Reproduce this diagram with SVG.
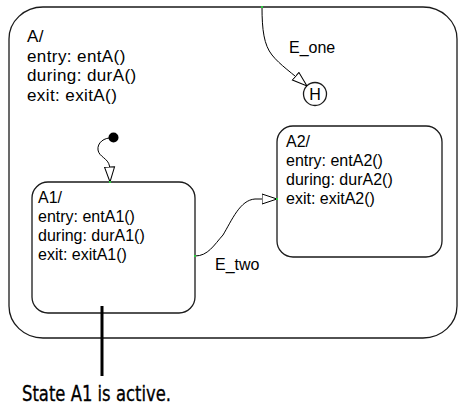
<svg xmlns="http://www.w3.org/2000/svg" width="459" height="405" viewBox="0 0 459 405">
<defs>
<style>
.st{fill:none;stroke:#1a1a1a;stroke-width:1.3}
.big{font-family:"Liberation Sans",Arial,sans-serif;font-size:17px;letter-spacing:0.4px;fill:#000}
.sm{font-family:"Liberation Sans",Arial,sans-serif;font-size:16px;fill:#000}
.tr{fill:none;stroke:#000;stroke-width:1}
.jn{fill:#2ecc40}
.cap{font-family:"DejaVu Sans Condensed","DejaVu Sans",sans-serif;font-size:22px;fill:#000;stroke:#000;stroke-width:0.3}
</style>
<marker id="arr" viewBox="0 0 16 12" refX="15.5" refY="6" markerWidth="16" markerHeight="12" markerUnits="userSpaceOnUse" orient="auto">
<path d="M0.5,1 L15.5,6 L0.5,11 Z" fill="#fff" stroke="#000" stroke-width="1"/>
</marker>
</defs>
<rect width="459" height="405" fill="#fff"/>
<g id="A">
<rect class="st" x="9" y="7" width="448" height="331" rx="34" ry="32"/>
<text class="big" x="27" y="42">A/</text>
<text class="big" x="27" y="61.5">entry: entA()</text>
<text class="big" x="27" y="81">during: durA()</text>
<text class="big" x="27" y="100.5">exit: exitA()</text>
</g>
<g id="H">
<circle class="st" cx="315" cy="94" r="11.5"/>
<text class="sm" x="315" y="100" text-anchor="middle">H</text>
</g>
<g id="default">
<circle cx="113.5" cy="137.5" r="5" fill="#000"/>
</g>
<g id="A1">
<rect class="st" x="32" y="182" width="163" height="131" rx="16" ry="16"/>
<text class="sm" x="38" y="203">A1/</text>
<text class="sm" x="38" y="222">entry: entA1()</text>
<text class="sm" x="38" y="241">during: durA1()</text>
<text class="sm" x="38" y="260">exit: exitA1()</text>
</g>
<g id="A2">
<rect class="st" x="277" y="126" width="165" height="131" rx="16" ry="16"/>
<text class="sm" x="286" y="147">A2/</text>
<text class="sm" x="286" y="166">entry: entA2()</text>
<text class="sm" x="286" y="185">during: durA2()</text>
<text class="sm" x="286" y="204">exit: exitA2()</text>
</g>
<g id="connectors">
<path class="tr" d="M113,138 C104,137 97,143 98,150 C99,157 108,158 109.5,166 L110,182" marker-end="url(#arr)"/>
<path class="tr" d="M262,7 C262,30 264,45 272,55 C280,65 292,73 307,86" marker-end="url(#arr)"/>
<path class="tr" d="M195,256 C208,256 214,245 223,235 C232,220 240,200 255,199 L277,199" marker-end="url(#arr)"/>
<rect class="jn" x="109" y="181" width="2" height="2"/>
<rect class="jn" x="194" y="255" width="2" height="2"/>
<rect class="jn" x="276" y="198" width="2" height="2"/>
<rect class="jn" x="261" y="6" width="2" height="2"/>
<text class="sm" x="289" y="53">E_one</text>
<text class="sm" x="215" y="270">E_two</text>
</g>
<g id="note">
<line x1="102" y1="306" x2="102" y2="376" stroke="#000" stroke-width="3"/>
<text class="cap" x="22" y="401" textLength="149" lengthAdjust="spacingAndGlyphs">State A1 is active.</text>
</g>
</svg>
